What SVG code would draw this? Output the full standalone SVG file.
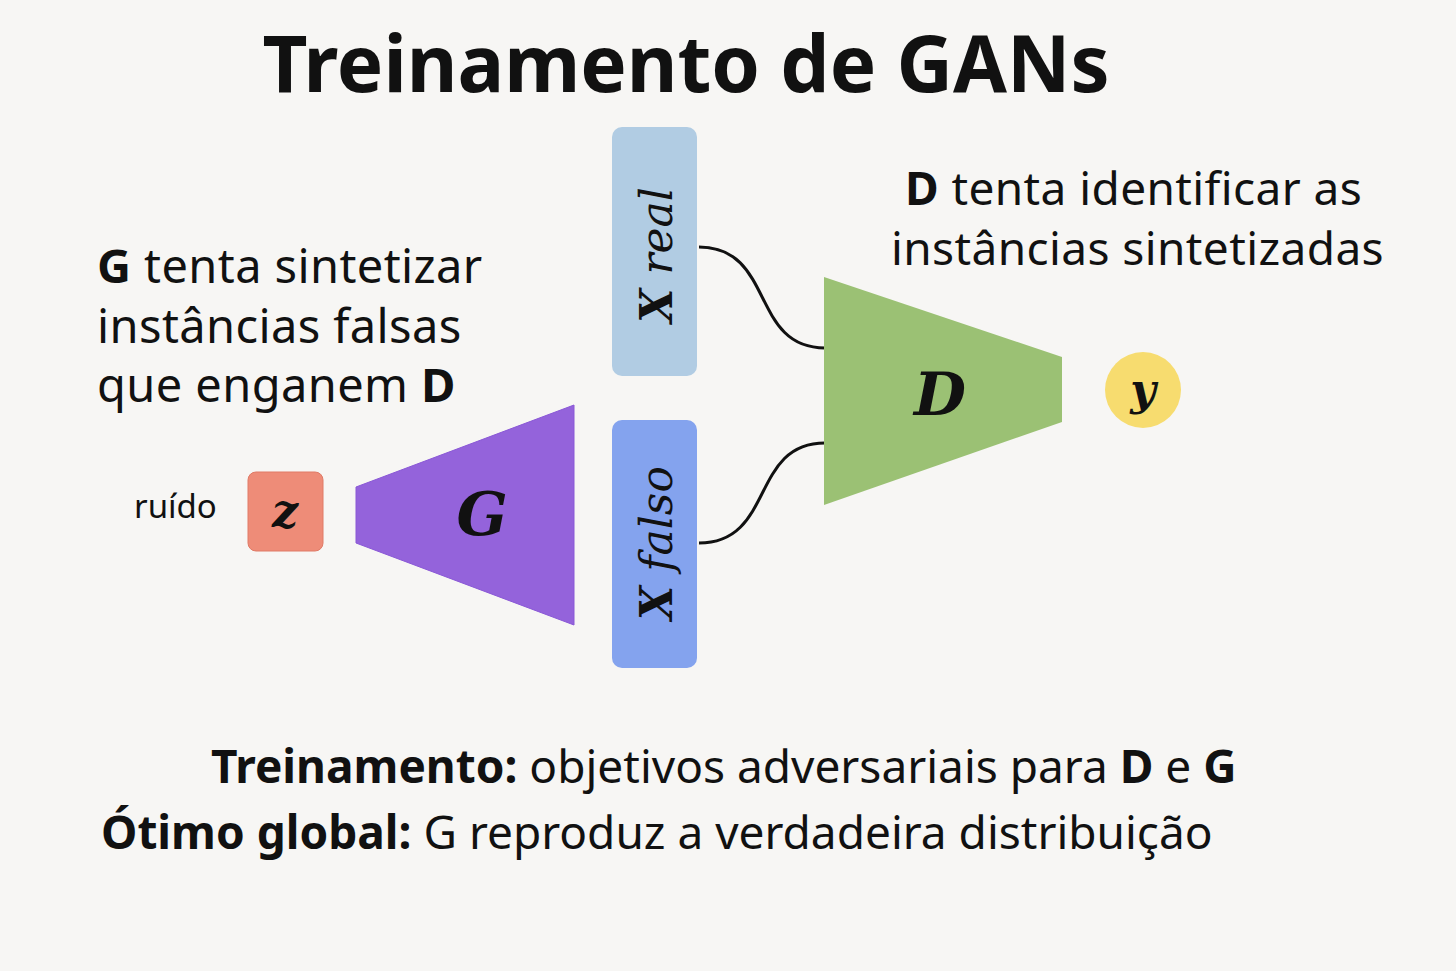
<svg xmlns="http://www.w3.org/2000/svg" width="1456" height="971" viewBox="0 0 1456 971">
<style>
.sans{font-family:"Noto Sans","Open Sans","DejaVu Sans",sans-serif;fill:#111;font-variant-ligatures:none}
.b{font-weight:700}
.math{font-family:"DejaVu Serif","Liberation Serif",serif;font-style:italic;fill:#111}
.wire{fill:none;stroke:#111;stroke-width:3}
</style>
<rect width="1456" height="971" fill="#f7f6f4"/>
<text class="sans b" x="686" y="92" font-size="78" text-anchor="middle">Treinamento de GANs</text>
<g id="txt-g" class="sans" font-size="47" letter-spacing="0.4">
<text x="97" y="283"><tspan class="b">G</tspan> tenta sintetizar</text>
<text x="97" y="343">instâncias falsas</text>
<text x="97" y="402">que enganem <tspan class="b">D</tspan></text>
</g>
<g id="txt-d" class="sans" font-size="46" letter-spacing="0.4">
<text x="905" y="205"><tspan class="b">D</tspan> tenta identificar as</text>
<text x="891" y="265">instâncias sintetizadas</text>
</g>
<g id="connectors">
<path class="wire" d="M699,247 C775,247 750,348 825,348"/>
<path class="wire" d="M699,543 C775,543 750,443 825,443"/>
</g>
<g id="ruido"><text class="sans" x="134" y="518" font-size="33">ruído</text></g>
<g id="z">
<rect x="248" y="472" width="75" height="79" rx="8" fill="#ee8c78" stroke="#e07a66" stroke-width="1"/>
<text class="math" x="285" y="527" font-size="46" font-weight="700" text-anchor="middle">z</text>
</g>
<g id="G">
<polygon points="356,487 574,405 574,625 356,543" fill="#9463db" stroke="#8a58d6" stroke-width="1"/>
<text class="math" x="482" y="535" font-size="60" font-weight="700" text-anchor="middle">G</text>
</g>
<g id="xreal">
<rect x="612" y="127" width="85" height="249" rx="10" fill="#b1cce3"/>
<text class="math" transform="translate(672,255) rotate(-90)" font-size="44" text-anchor="middle"><tspan font-weight="700">X</tspan> real</text>
</g>
<g id="xfalso">
<rect x="612" y="420" width="85" height="248" rx="10" fill="#84a3ee"/>
<text class="math" transform="translate(672,543) rotate(-90)" font-size="44" text-anchor="middle"><tspan font-weight="700">X</tspan> falso</text>
</g>
<g id="D">
<polygon points="824,277 1062,357 1062,422 824,505" fill="#9bc174"/>
<text class="math" x="940" y="415" font-size="60" font-weight="700" text-anchor="middle">D</text>
</g>
<g id="y">
<circle cx="1143" cy="390" r="38" fill="#f7dc6f"/>
<text class="math" x="1143" y="405" font-size="44" font-weight="700" text-anchor="middle">y</text>
</g>
<g id="bottom" class="sans" font-size="46">
<text x="211" y="783"><tspan class="b">Treinamento:</tspan> objetivos adversariais para <tspan class="b">D</tspan> e <tspan class="b">G</tspan></text>
<text x="101" y="849"><tspan class="b">Ótimo global:</tspan> G reproduz a verdadeira distribuição</text>
</g>
</svg>
